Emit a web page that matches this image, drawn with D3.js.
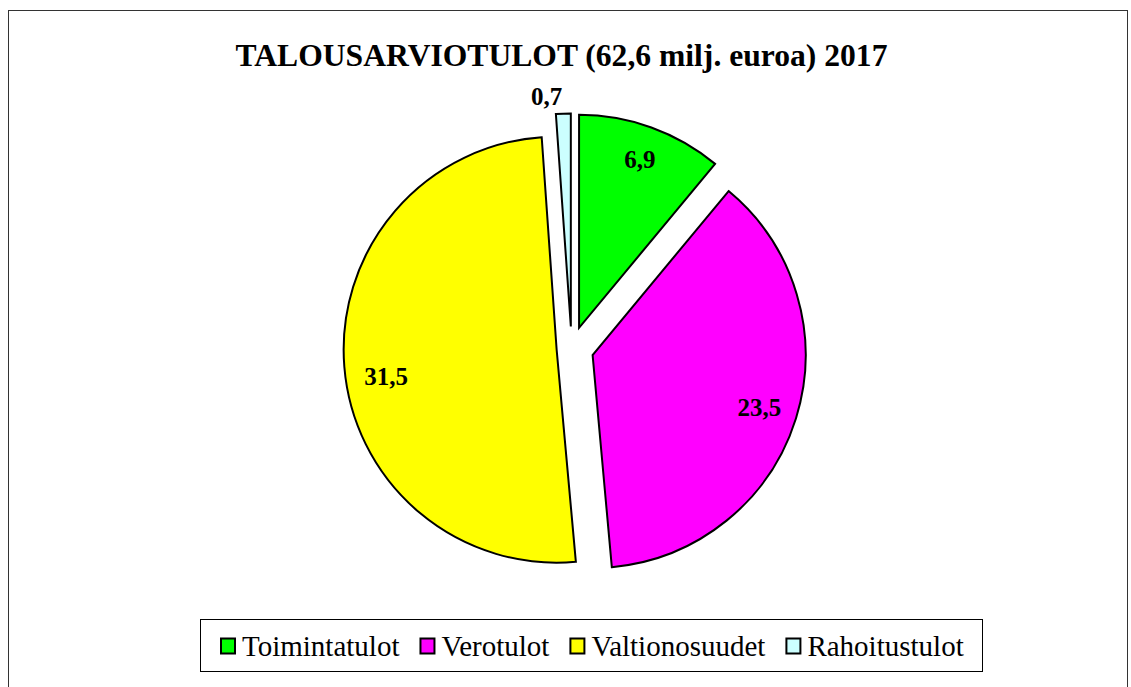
<!DOCTYPE html>
<html>

<head>
    <meta charset="UTF-8">
    <title>Talousarviotulot 2017</title>
    <script src="https://d3js.org/d3.v7.min.js"></script>
    <style>
        body { margin: 0; background: #fff; }
    </style>
</head>

<body>

    <script>
        // slice data (milj. euroa)
        var categories = ["Toimintatulot", "Verotulot", "Valtionosuudet", "Rahoitustulot"];
        var values = [6.9, 23.5, 31.5, 0.7];
        var labels = ["6,9", "23,5", "31,5", "0,7"];
        var colors = ["#00ff00", "#ff00ff", "#ffff00", "#ccffff"];
        var title = "TALOUSARVIOTULOT (62,6 milj. euroa) 2017";

        var serif = "'Liberation Serif', 'Times New Roman', 'DejaVu Serif', serif";
        var width = 1131, height = 687;
        var cx = 571.6, cy = 348.5, radius = 213;
        var explode = [22, 22, 15, 22];        // how far each slice is pulled out
        var labelTurn = [0, 0, -0.075, -0.07]; // small angle nudges for the labels (radians)
        var labelDist = [0.84, 0.82, 0.81, 1.085];

        var svg = d3.select("body").append("svg")
            .attr("width", width)
            .attr("height", height)
            .style("font-family", serif);

        // outer chart frame (bottom edge is off the page)
        svg.append("rect")
            .attr("x", 8.5).attr("y", 10.5)
            .attr("width", 1119).attr("height", 700)
            .attr("fill", "none")
            .attr("stroke", "#333")
            .attr("stroke-width", 1);

        svg.append("text")
            .attr("x", 561.5)
            .attr("y", 66)
            .attr("text-anchor", "middle")
            .attr("font-family", serif)
            .attr("font-weight", "bold")
            .attr("font-size", 31.6)
            .text(title);

        var data = values.map(function (v, i) {
            return { name: categories[i], value: v, label: labels[i], color: colors[i], i: i };
        });

        var pie = d3.pie().sort(null).value(function (d) { return d.value; });
        var arc = d3.arc().innerRadius(0).outerRadius(radius);

        var slices = svg.append("g")
            .attr("transform", "translate(" + cx + "," + cy + ")")
            .selectAll("g")
            .data(pie(data))
            .enter().append("g")
            .attr("transform", function (d) {
                var a = (d.startAngle + d.endAngle) / 2, off = explode[d.data.i];
                return "translate(" + (Math.sin(a) * off) + "," + (-Math.cos(a) * off) + ")";
            });

        slices.append("path")
            .attr("d", arc)
            .attr("fill", function (d) { return d.data.color; })
            .attr("stroke", "#000")
            .attr("stroke-width", 2)
            .attr("stroke-linejoin", "miter");

        // data labels: inside the slice, the tiny slice gets its label outside
        slices.append("text")
            .attr("transform", function (d) {
                var a = (d.startAngle + d.endAngle) / 2 + labelTurn[d.data.i];
                var r = radius * labelDist[d.data.i];
                return "translate(" + (Math.sin(a) * r) + "," + (-Math.cos(a) * r) + ")";
            })
            .attr("dy", "0.35em")
            .attr("text-anchor", "middle")
            .attr("font-family", serif)
            .attr("font-weight", "bold")
            .attr("font-size", 25)
            .text(function (d) { return d.data.label; });

        // legend
        var legend = svg.append("g");
        legend.append("rect")
            .attr("x", 200.5).attr("y", 619.5)
            .attr("width", 782).attr("height", 52)
            .attr("fill", "#fff")
            .attr("stroke", "#000")
            .attr("stroke-width", 1);

        var x = 221;
        data.forEach(function (d) {
            legend.append("rect")
                .attr("x", x).attr("y", 638.5)
                .attr("width", 14).attr("height", 15)
                .attr("fill", d.color)
                .attr("stroke", "#000")
                .attr("stroke-width", 2);
            var t = legend.append("text")
                .attr("x", x + 21)
                .attr("y", 656)
                .attr("font-family", serif)
                .attr("font-size", 29)
                .text(d.name);
            x += 21 + t.node().getComputedTextLength() + 21;
        });
    </script>
</body>

</html>
